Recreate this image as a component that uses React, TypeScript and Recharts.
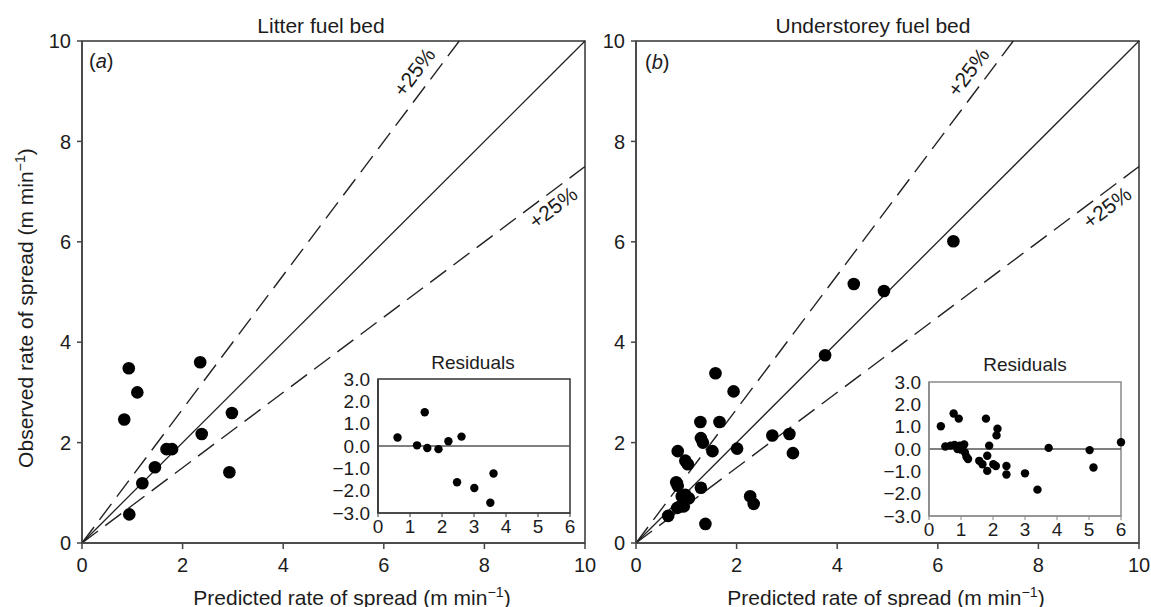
import React from "react";
import {
  ReferenceArea,
  ReferenceDot,
  ReferenceLine,
  Scatter,
  ScatterChart,
  XAxis,
  YAxis,
} from "recharts";

// main panels: predicted vs observed rate of spread (m/min)
const litterPredicted = [0.93, 1.1, 0.84, 2.35, 2.98, 2.38, 1.68, 1.79, 1.45, 1.2, 0.94, 2.93];
const litterObserved = [3.48, 3.0, 2.46, 3.6, 2.59, 2.17, 1.87, 1.87, 1.51, 1.19, 0.57, 1.41];

const understoreyPredicted = [
  1.58, 1.94, 1.28, 1.66, 1.29, 1.33, 1.52, 2.01, 0.83, 0.98, 1.03, 0.8, 0.83, 1.29, 0.91, 0.98,
  1.05, 0.88, 0.95, 0.82, 0.64, 2.27, 2.34, 1.38, 2.71, 3.05, 3.12, 3.76, 4.33, 4.93, 6.31,
];
const understoreyObserved = [
  3.38, 3.02, 2.41, 2.41, 2.09, 2.0, 1.83, 1.88, 1.83, 1.64, 1.57, 1.21, 1.14, 1.1, 0.93, 0.96,
  0.89, 0.73, 0.73, 0.7, 0.54, 0.93, 0.78, 0.38, 2.14, 2.17, 1.79, 3.74, 5.16, 5.02, 6.01,
];

// inset residual plots
const litterResidualX = [0.61, 1.22, 1.54, 1.46, 1.89, 2.2, 2.61, 2.47, 3.01, 3.61, 3.51];
const litterResidualY = [0.38, 0.03, -0.09, 1.51, -0.14, 0.21, 0.42, -1.62, -1.88, -1.23, -2.54];

const understoreyResidualX = [
  0.37, 0.77, 0.93, 0.51, 0.67, 0.8, 0.96, 1.1, 0.89, 1.01, 1.12, 1.17, 1.22, 1.78, 2.14, 2.11,
  1.88, 1.82, 1.57, 1.67, 1.82, 2.01, 2.09, 2.42, 2.42, 3.0, 3.39, 3.74, 5.02, 5.14, 6.0,
];
const understoreyResidualY = [
  1.02, 1.59, 1.36, 0.11, 0.15, 0.18, 0.15, 0.2, 0.0, -0.03, -0.15, -0.35, -0.45, 1.36, 0.91, 0.61,
  0.15, -0.3, -0.53, -0.68, -0.98, -0.68, -0.76, -0.76, -1.14, -1.09, -1.82, 0.05, -0.05, -0.83, 0.3,
];

const mainTicks = [0, 2, 4, 6, 8, 10];
const residualXTicks = [0, 1, 2, 3, 4, 5, 6];
const residualYTicks = [3, 2, 1, 0, -1, -2, -3];

// 1:1 line and the +/-25% band
const oneToOne = [{ x: 0, y: 0 }, { x: 10, y: 10 }];
const upperBand = [{ x: 0, y: 0 }, { x: 7.5, y: 10 }];
const lowerBand = [{ x: 0, y: 0 }, { x: 10, y: 7.5 }];
const bandLabel = "+25%";

const FONT = '"Liberation Sans", Arial, Helvetica, sans-serif';
const INK = "#1c1c1c";

const pairs = (xs: number[], ys: number[]) => xs.map((x, i) => ({ x, y: ys[i] }));

const dot = (r: number) => (p: any) => <circle cx={p.cx} cy={p.cy} r={r} fill="#000" />;

const fmtResidual = (v: number) => (v < 0 ? "\u2212" + Math.abs(v).toFixed(1) : v.toFixed(1));

// own tick text so the font size sticks
const tickText = (size: number, fmt?: (v: number) => string) => (p: any) => (
  <text
    x={p.x}
    y={p.y}
    textAnchor={p.textAnchor}
    dy={p.verticalAnchor === "start" ? "0.71em" : "0.355em"}
    fontSize={size}
    fontFamily={FONT}
    fill={INK}
  >
    {fmt ? fmt(p.payload.value) : p.payload.value}
  </text>
);

const bandText = (angle: number, dy: number) => (p: any) => (
  <text
    x={p.cx}
    y={p.cy}
    dy={dy}
    textAnchor="middle"
    transform={`rotate(${angle} ${p.cx} ${p.cy})`}
    fontSize={21}
    fontFamily={FONT}
    fill={INK}
  >
    {bandLabel}
  </text>
);

function MainPanel({ data, left }: { data: { x: number; y: number }[]; left: number }) {
  return (
    <div style={{ position: "absolute", left, top: 0 }}>
      <ScatterChart width={600} height={607} margin={{ top: 41, right: 15, bottom: 34, left: 32 }}>
        <XAxis
          type="number"
          dataKey="x"
          domain={[0, 10]}
          ticks={mainTicks}
          interval={0}
          height={30}
          tickSize={6}
          tickMargin={9}
          stroke="#444"
          strokeWidth={1.5}
          tick={tickText(20)}
        />
        <YAxis
          type="number"
          dataKey="y"
          domain={[0, 10]}
          ticks={mainTicks}
          interval={0}
          width={50}
          tickSize={5}
          tickMargin={6}
          stroke="#444"
          strokeWidth={1.5}
          tick={tickText(20)}
        />
        <ReferenceArea x1={0} x2={10} y1={0} y2={10} fill="none" stroke="#333" strokeWidth={1.5} />
        <ReferenceLine segment={oneToOne} stroke="#222" strokeWidth={1.3} />
        <ReferenceLine segment={upperBand} stroke="#222" strokeWidth={1.4} strokeDasharray="20 9" />
        <ReferenceLine segment={lowerBand} stroke="#222" strokeWidth={1.4} strokeDasharray="20 9" />
        <ReferenceDot x={6.88} y={6.88 / 0.75} r={0} shape={bandText(-53.13, -10)} />
        <ReferenceDot x={9.2} y={9.2 * 0.75} r={0} shape={bandText(-36.87, 21)} />
        <Scatter data={data} shape={dot(6.3)} isAnimationActive={false} />
      </ScatterChart>
    </div>
  );
}

function ResidualInset({
  data,
  left,
  top,
  frame,
}: {
  data: { x: number; y: number }[];
  left: number;
  top: number;
  frame: string;
}) {
  // plot box starts 60px right of and 10px below the chart corner
  return (
    <div style={{ position: "absolute", left: left - 60, top: top - 10 }}>
      <ScatterChart width={262} height={172} margin={{ top: 10, right: 10, bottom: 0, left: 8 }}>
        <XAxis
          type="number"
          dataKey="x"
          domain={[0, 6]}
          ticks={residualXTicks}
          interval={0}
          height={28}
          tickSize={4}
          tickMargin={3}
          stroke={frame}
          tick={tickText(19)}
        />
        <YAxis
          type="number"
          dataKey="y"
          domain={[-3, 3]}
          ticks={residualYTicks}
          interval={0}
          width={52}
          tickSize={0}
          tickMargin={8}
          stroke={frame}
          strokeWidth={1.5}
          tick={tickText(19, fmtResidual)}
        />
        <ReferenceArea x1={0} x2={6} y1={-3} y2={3} fill="none" stroke={frame} strokeWidth={1.5} />
        <ReferenceLine y={0} stroke="#555" strokeWidth={1.5} />
        <Scatter data={data} shape={dot(4.2)} isAnimationActive={false} />
      </ScatterChart>
    </div>
  );
}

const textStyle = (x: number, y: number, size: number, rotate = 0): React.CSSProperties => ({
  position: "absolute",
  left: x,
  top: y,
  transform: `translate(-50%, -50%)${rotate ? ` rotate(${rotate}deg)` : ""}`,
  fontFamily: FONT,
  fontSize: size,
  color: INK,
  whiteSpace: "nowrap",
  lineHeight: 1,
});

const unit = (
  <>
    (m min<sup style={{ fontSize: "0.68em", verticalAlign: "0.55em", lineHeight: 0 }}>{"\u2212"}1</sup>)
  </>
);

export default function App() {
  return (
    <div style={{ position: "absolute", left: 0, top: 0, width: 1151, height: 607, background: "#fff" }}>
      <MainPanel data={pairs(litterPredicted, litterObserved)} left={0} />
      <MainPanel data={pairs(understoreyPredicted, understoreyObserved)} left={554} />
      <ResidualInset data={pairs(litterResidualX, litterResidualY)} left={378} top={379} frame="#333" />
      <ResidualInset data={pairs(understoreyResidualX, understoreyResidualY)} left={929} top={382} frame="#888" />

      <div style={textStyle(321, 25, 21)}>Litter fuel bed</div>
      <div style={textStyle(873, 25, 21)}>Understorey fuel bed</div>
      <div style={{ ...textStyle(89, 61, 20), transform: "translate(0, -50%)" }}>
        (<i>a</i>)
      </div>
      <div style={{ ...textStyle(645, 62, 20), transform: "translate(0, -50%)" }}>
        (<i>b</i>)
      </div>
      <div style={textStyle(473, 362, 19)}>Residuals</div>
      <div style={textStyle(1025, 364, 19)}>Residuals</div>
      <div style={textStyle(352, 597, 21)}>Predicted rate of spread {unit}</div>
      <div style={textStyle(886, 597, 21)}>Predicted rate of spread {unit}</div>
      <div style={textStyle(25, 308, 21, -90)}>Observed rate of spread {unit}</div>
    </div>
  );
}
